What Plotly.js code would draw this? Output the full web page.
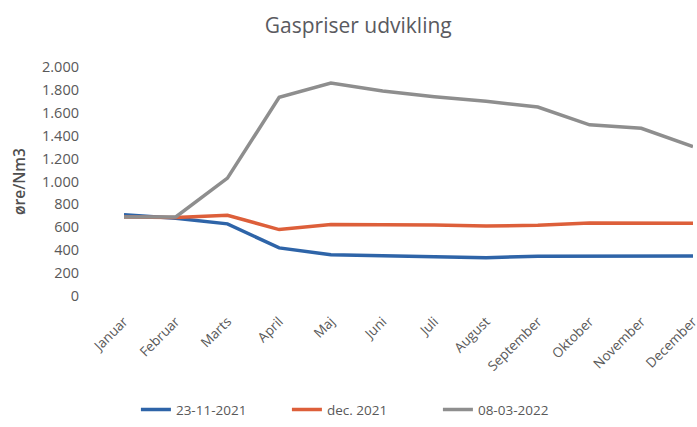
<!DOCTYPE html>
<html>
<head>
<meta charset="utf-8">
<script src="https://cdn.plot.ly/plotly-3.0.1.min.js"></script>
<style>html,body{margin:0;padding:0;background:#fff;}#chart{width:697px;height:427px;}</style>
</head>
<body>
<div id="chart"></div>
<script>
var months = ["Januar","Februar","Marts","April","Maj","Juni","Juli","August","September","Oktober","November","December"];
var s2021nov = [710, 680, 630, 420, 360, 350, 345, 335, 348, 350, 350, 350];
var s2021dec = [690, 685, 705, 580, 625, 625, 620, 612, 617, 638, 638, 635];
var s2022mar = [690, 690, 1030, 1735, 1860, 1790, 1740, 1700, 1650, 1495, 1465, 1305];
var yTicks = [0,200,400,600,800,1000,1200,1400,1600,1800,2000];
var yTickText = ["0","200","400","600","800","1.000","1.200","1.400","1.600","1.800","2.000"];

var grey = "#595959";
var traces = [
  {x: months, y: s2021nov, type: "scatter", mode: "lines", name: "23-11-2021", line: {color: "#2E64A8", width: 3.5}},
  {x: months, y: s2021dec, type: "scatter", mode: "lines", name: "dec. 2021", line: {color: "#DD5F3A", width: 3.5}},
  {x: months, y: s2022mar, type: "scatter", mode: "lines", name: "08-03-2022", line: {color: "#8E8E8E", width: 3.5}}
];
var layout = {
  width: 697, height: 427,
  paper_bgcolor: "#fff", plot_bgcolor: "#fff",
  margin: {l: 124, r: 4, t: 67, b: 130},
  font: {family: "Open Sans, DejaVu Sans, sans-serif", color: grey, size: 13},
  title: {text: "Gaspriser udvikling", x: 0.514, xanchor: "center", y: 0.94, yanchor: "middle", font: {size: 21, color: "#5a5a60"}},
  xaxis: {
    type: "category", range: [0, 11], showgrid: false, zeroline: false, showline: false, automargin: false,
    tickangle: -45, tickfont: {size: 13.5, color: grey}, ticks: "", ticklabelstandoff: 14
  },
  yaxis: {
    range: [0, 2000], tickvals: yTicks, ticktext: yTickText, showgrid: false, zeroline: false, showline: false, automargin: false,
    tickfont: {size: 14.5, color: grey}, ticklabelstandoff: 44,
    title: {text: "øre/Nm3", font: {size: 15.5, color: "#4f4f4f", weight: 600}, standoff: 12}
  },
  showlegend: true,
  legend: {orientation: "h", x: 0.419, xanchor: "center", y: -0.49, yanchor: "middle",
           entrywidth: 106, entrywidthmode: "pixels", font: {size: 13.5, color: grey}},
  hovermode: false
};
Plotly.newPlot("chart", traces, layout, {displayModeBar: false, staticPlot: true});
</script>
</body>
</html>
